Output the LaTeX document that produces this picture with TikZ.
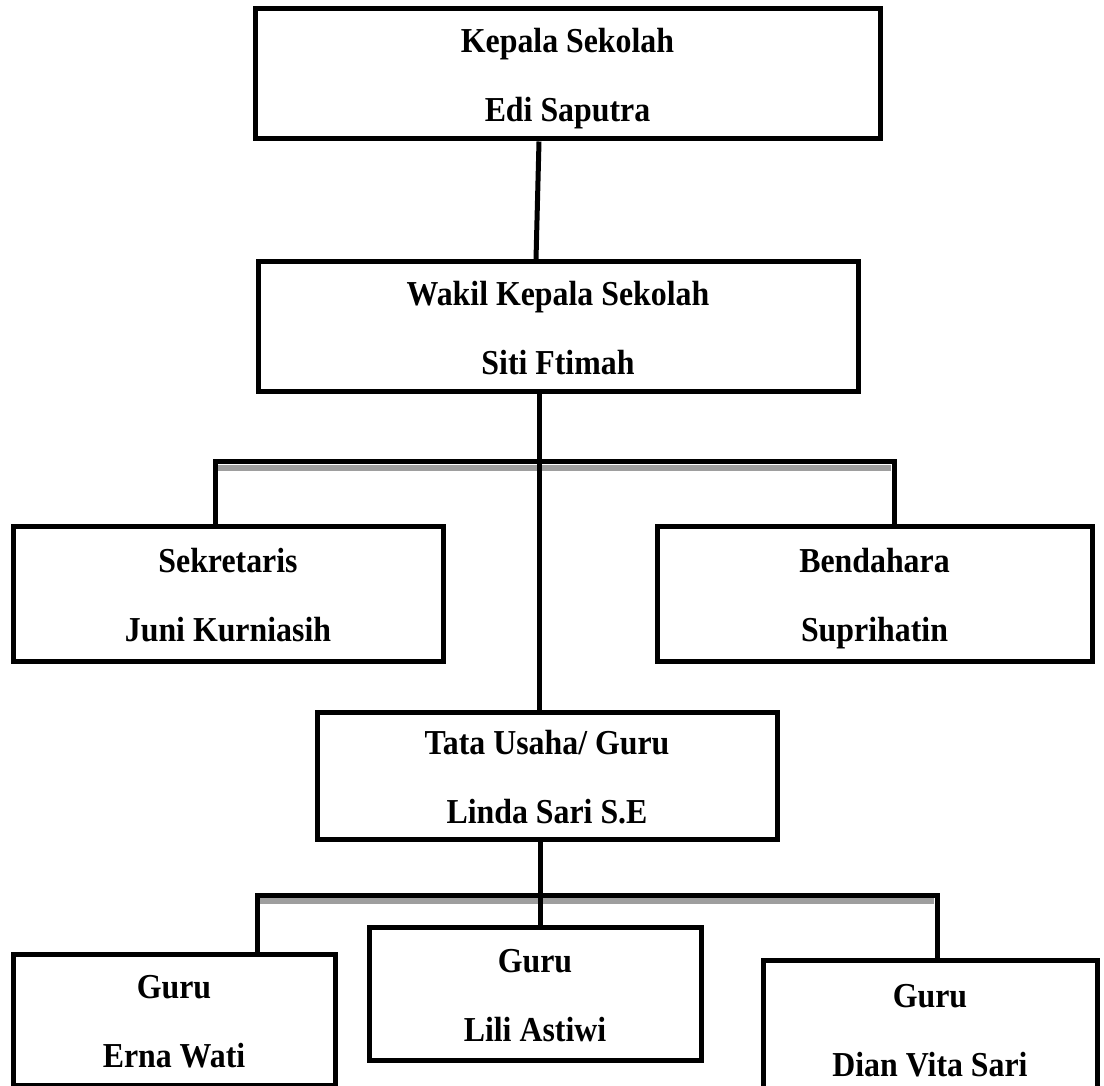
\documentclass[tikz,border=0pt]{standalone}
\usepackage{fontspec}
\setmainfont{Liberation Serif}[FakeStretch=0.91]
\newcommand\twolines[2]{\rule{0pt}{35pt}#1\\#2\rule[-8pt]{0pt}{8pt}}
\begin{document}
\begin{tikzpicture}[x=1pt,y=-1pt,
  box/.style={draw=black, line width=5pt, rectangle, inner sep=0pt, align=center,
    font=\fontsize{35}{69}\selectfont\bfseries},
  conn/.style={draw=black, line width=5pt, line join=miter},
  shade/.style={draw=black!38, line width=6pt}]
\useasboundingbox (0,0) rectangle (1104,1086);
% boxes
\node[box, minimum width=625, minimum height=130] (K) at (567.5,74) {\twolines{Kepala Sekolah}{Edi Saputra}};
\node[box, minimum width=600, minimum height=129] (W) at (558,326.5) {\twolines{Wakil Kepala Sekolah}{Siti Ftimah}};
\node[box, minimum width=430, minimum height=135] (S) at (228,593.5) {\twolines{Sekretaris}{Juni Kurniasih}};
\node[box, minimum width=435, minimum height=135] (B) at (874.5,593.5) {\twolines{Bendahara}{Suprihatin}};
\node[box, minimum width=460, minimum height=127] (T) at (547,775.5) {\twolines{Tata Usaha/ Guru}{Linda Sari S.E}};
\node[box, minimum width=322, minimum height=131] (E) at (174,1019.5) {\twolines{Guru}{Erna Wati}};
\node[box, minimum width=332, minimum height=133] (L) at (535,993.5) {\twolines{Guru}{Lili Astiwi}};
\node[box, minimum width=334, minimum height=136] (D) at (930,1028) {\twolines{Guru}{Dian Vita Sari}};
% junction coordinates
\coordinate (b1l) at (215,461.5);
\coordinate (b1r) at (894,461.5);
\coordinate (c1) at (539,461.5);
\coordinate (b2l) at (257,895);
\coordinate (b2r) at (937,895);
\coordinate (c2) at (540,895);
% shadows of the bars
\draw[shade] ([xshift=3pt,yshift=-6.5pt]b1l) -- ([xshift=-3pt,yshift=-6.5pt]b1r);
\draw[shade] ([xshift=3pt,yshift=-6pt]b2l) -- ([xshift=-3pt,yshift=-6pt]b2r);
% connectors
\draw[conn] ([xshift=-28.5pt]K.south) -- ([xshift=-22pt]W.north);
\draw[conn] (W.south -| c1) -- (T.north -| c1);
\draw[conn] (S.north -| b1l) -- (b1l) -- (b1r) -- (B.north -| b1r);
\draw[conn] (E.north -| b2l) -- (b2l) -- (b2r) -- (D.north -| b2r);
\draw[conn] (T.south -| c2) -- (L.north -| c2);
\end{tikzpicture}
\end{document}
